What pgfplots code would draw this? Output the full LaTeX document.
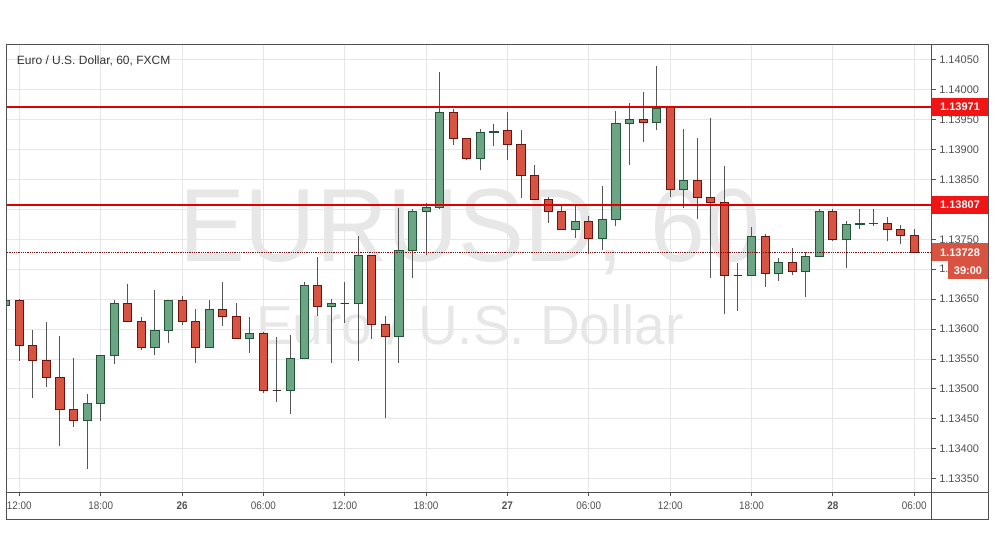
\documentclass[border=0pt]{standalone}
\usepackage{fontspec}
\setmainfont{Liberation Sans}
\usepackage{pgfplots}
\usepackage{pgfplotstable}
\pgfplotsset{compat=1.18}

\definecolor{upfill}{RGB}{107,165,131}
\definecolor{upedge}{RGB}{34,84,55}
\definecolor{dnfill}{RGB}{215,84,66}
\definecolor{dnedge}{RGB}{110,20,15}
\definecolor{wick}{RGB}{85,85,85}
\definecolor{framegray}{RGB}{80,80,80}
\definecolor{gridgray}{RGB}{230,230,230}
\definecolor{ticktext}{RGB}{80,80,80}
\definecolor{wm}{RGB}{231,231,231}
\definecolor{tagred}{RGB}{240,20,20}
\definecolor{lasttag}{RGB}{217,83,66}

% hourly candles, r = 0 is 11:00 on the 25th; dir: 0 down, 1 up, 2 doji
\pgfplotstableread{
r open high low close dir
0 1.13640 1.13655 1.13635 1.13648 1
1 1.13648 1.13650 1.13547 1.13573 0
2 1.13573 1.13598 1.13484 1.13548 0
3 1.13548 1.13611 1.13503 1.13519 0
4 1.13519 1.13588 1.13405 1.13466 0
5 1.13466 1.13551 1.13437 1.13447 0
6 1.13447 1.13492 1.13366 1.13476 1
7 1.13476 1.13556 1.13447 1.13556 1
8 1.13556 1.13649 1.13541 1.13643 1
9 1.13643 1.13675 1.13613 1.13613 0
10 1.13613 1.13620 1.13565 1.13569 0
11 1.13569 1.13665 1.13556 1.13598 1
12 1.13598 1.13649 1.13576 1.13648 1
13 1.13648 1.13655 1.13607 1.13613 0
14 1.13613 1.13633 1.13544 1.13569 0
15 1.13569 1.13648 1.13569 1.13633 1
16 1.13633 1.13678 1.13605 1.13621 0
17 1.13621 1.13644 1.13584 1.13584 0
18 1.13584 1.13620 1.13560 1.13592 1
19 1.13592 1.13595 1.13493 1.13497 0
20 1.13497 1.13586 1.13478 1.13497 2
21 1.13497 1.13590 1.13458 1.13550 1
22 1.13550 1.13679 1.13550 1.13673 1
23 1.13673 1.13721 1.13622 1.13638 0
24 1.13638 1.13650 1.13544 1.13643 1
25 1.13642 1.13678 1.13610 1.13642 2
26 1.13642 1.13755 1.13547 1.13723 1
27 1.13723 1.13723 1.13584 1.13607 0
28 1.13607 1.13622 1.13451 1.13588 0
29 1.13588 1.13802 1.13544 1.13731 1
30 1.13731 1.13800 1.13686 1.13797 1
31 1.13796 1.13810 1.13723 1.13803 1
32 1.13803 1.14030 1.13800 1.13962 1
33 1.13962 1.13968 1.13907 1.13918 0
34 1.13918 1.13918 1.13882 1.13885 0
35 1.13885 1.13934 1.13865 1.13929 1
36 1.13928 1.13942 1.13906 1.13931 1
37 1.13932 1.13963 1.13882 1.13909 0
38 1.13909 1.13933 1.13819 1.13856 0
39 1.13856 1.13874 1.13817 1.13817 0
40 1.13817 1.13821 1.13777 1.13796 0
41 1.13796 1.13806 1.13767 1.13767 0
42 1.13767 1.13809 1.13752 1.13779 1
43 1.13779 1.13789 1.13726 1.13751 0
44 1.13751 1.13839 1.13732 1.13783 1
45 1.13783 1.13964 1.13772 1.13944 1
46 1.13944 1.13978 1.13874 1.13950 1
47 1.13950 1.13996 1.13913 1.13945 0
48 1.13945 1.14040 1.13933 1.13969 1
49 1.13971 1.13973 1.13820 1.13833 0
50 1.13833 1.13934 1.13803 1.13849 1
51 1.13849 1.13920 1.13784 1.13820 0
52 1.13820 1.13953 1.13686 1.13812 0
53 1.13812 1.13872 1.13625 1.13690 0
54 1.13690 1.13711 1.13630 1.13690 2
55 1.13690 1.13770 1.13690 1.13755 1
56 1.13755 1.13758 1.13671 1.13693 0
57 1.13693 1.13719 1.13680 1.13711 1
58 1.13711 1.13736 1.13691 1.13696 0
59 1.13696 1.13729 1.13653 1.13721 1
60 1.13721 1.13801 1.13721 1.13797 1
61 1.13797 1.13801 1.13747 1.13750 0
62 1.13750 1.13780 1.13702 1.13775 1
63 1.13775 1.13800 1.13768 1.13776 1
64 1.13776 1.13800 1.13772 1.13777 1
65 1.13777 1.13788 1.13747 1.13767 0
66 1.13767 1.13774 1.13742 1.13757 0
67 1.13757 1.13767 1.13728 1.13728 0
}\ohlc

\pgfplotsset{
  wickline/.style={draw=wick, line width=1pt, mark=none},
  bull/.style={draw=upedge, fill=upfill, line width=0.9pt, mark=none},
  bear/.style={draw=dnedge, fill=dnfill, line width=0.9pt, mark=none},
  doji/.style={draw=black!80, fill=black!80, line width=0.9pt, mark=none},
}

\begin{document}
\begin{tikzpicture}
\useasboundingbox (0,0) rectangle (995pt,556pt);

% watermark
\node[anchor=base, text=wm, font=\fontsize{104}{104}\selectfont, xscale=0.95] at (470pt,294pt) {EURUSD, 60};
\node[anchor=base, text=wm, font=\fontsize{55}{55}\selectfont] at (470pt,211pt) {Euro / U.S. Dollar};

\begin{axis}[
  at={(6.7pt,63.7pt)}, anchor=south west,
  scale only axis, width=925pt, height=448pt,
  xmin=0.07, xmax=68.29, ymin=1.13327, ymax=1.14076,
  clip mode=individual,
  axis line style={draw=framegray, line width=1pt},
  grid=major, major grid style={draw=gridgray, line width=0.8pt},
  xtick={1,7,13,19,25,31,37,43,49,55,61,67},
  xticklabels={12:00,18:00,\textbf{26},06:00,12:00,18:00,\textbf{27},06:00,12:00,18:00,\textbf{28},06:00},
  ytick={1.1335,1.1340,1.1345,1.1350,1.1355,1.1360,1.1365,1.1370,1.1375,1.1380,1.1385,1.1390,1.1395,1.1400,1.1405},
  % 1.13800 sits under the 1.13807 tag, and only "1." of 1.13700 shows beside the timer tag
  yticklabels={1.13350,1.13400,1.13450,1.13500,1.13550,1.13600,1.13650,1.,1.13750,,1.13850,1.13900,1.13950,1.14000,1.14050},
  xtick pos=left, ytick pos=right, yticklabel pos=right,
  tick align=outside, major tick length=4pt,
  tick style={draw=framegray, line width=0.8pt},
  yticklabel style={font=\fontsize{11}{13}\selectfont, text=ticktext},
  xticklabel style={font=\fontsize{11}{13}\selectfont, text=ticktext, xscale=0.9, yshift=-1.5pt},
]
\pgfplotsinvokeforeach{0,...,67}{%
  \pgfplotstablegetelem{#1}{open}\of\ohlc \let\cO\pgfplotsretval
  \pgfplotstablegetelem{#1}{high}\of\ohlc \let\cH\pgfplotsretval
  \pgfplotstablegetelem{#1}{low}\of\ohlc \let\cL\pgfplotsretval
  \pgfplotstablegetelem{#1}{close}\of\ohlc \let\cC\pgfplotsretval
  \pgfplotstablegetelem{#1}{dir}\of\ohlc \let\cD\pgfplotsretval
  \pgfmathsetmacro\xa{#1-0.3}\pgfmathsetmacro\xb{#1+0.3}%
  \edef\candleplot{%
    \noexpand\addplot[wickline] coordinates {(#1,\cL) (#1,\cH)};
    \noexpand\addplot[\ifcase\cD bear\or bull\or doji\fi] coordinates {(\xa,\cO) (\xb,\cO) (\xb,\cC) (\xa,\cC)} -- cycle;}%
  \candleplot
}
\coordinate (l1) at (axis cs:1,1.13971);
\coordinate (l2) at (axis cs:1,1.13807);
\coordinate (l3) at (axis cs:1,1.13728);
\end{axis}

% level lines and the last price line
\coordinate (xl) at (6.7pt,0pt);
\coordinate (xr) at (931.7pt,0pt);
\draw[draw=red!88!black, line width=1.5pt] (xl |- l1) -- (xr |- l1);
\draw[draw=red!88!black, line width=1.5pt] (xl |- l2) -- (xr |- l2);
\draw[draw=dnedge, line width=0.8pt, densely dotted] (xl |- l3) -- (xr |- l3);

% outer frame and panels
\draw[framegray, line width=1pt] (6.7pt,36.7pt) rectangle (988.3pt,511.7pt);
\draw[framegray, line width=1pt] (931.7pt,36.7pt) -- (931.7pt,511.7pt);
\draw[framegray, line width=1pt] (6.7pt,63.7pt) -- (988.3pt,63.7pt);

% title
\node[anchor=base west, text=black!80, font=\fontsize{12}{14}\selectfont, inner sep=0pt] at (16.7pt,491pt) {Euro / U.S. Dollar, 60, FXCM};

% price tags
\coordinate (rx) at (960pt,0pt);
\coordinate (rt) at (968pt,0pt);
\tikzset{tag/.style={text=white, font=\bfseries\fontsize{11}{13}\selectfont, minimum width=56pt, minimum height=18pt, inner sep=0pt}}
\node[tag, fill=tagred] at (rx |- l1) {1.13971};
\node[tag, fill=tagred] at (rx |- l2) {1.13807};
\node[tag, fill=lasttag] at (rx |- l3) {1.13728};
\node[tag, fill=lasttag, minimum width=40pt, yshift=-18pt] at (rt |- l3) {39:00};
\end{tikzpicture}
\end{document}
